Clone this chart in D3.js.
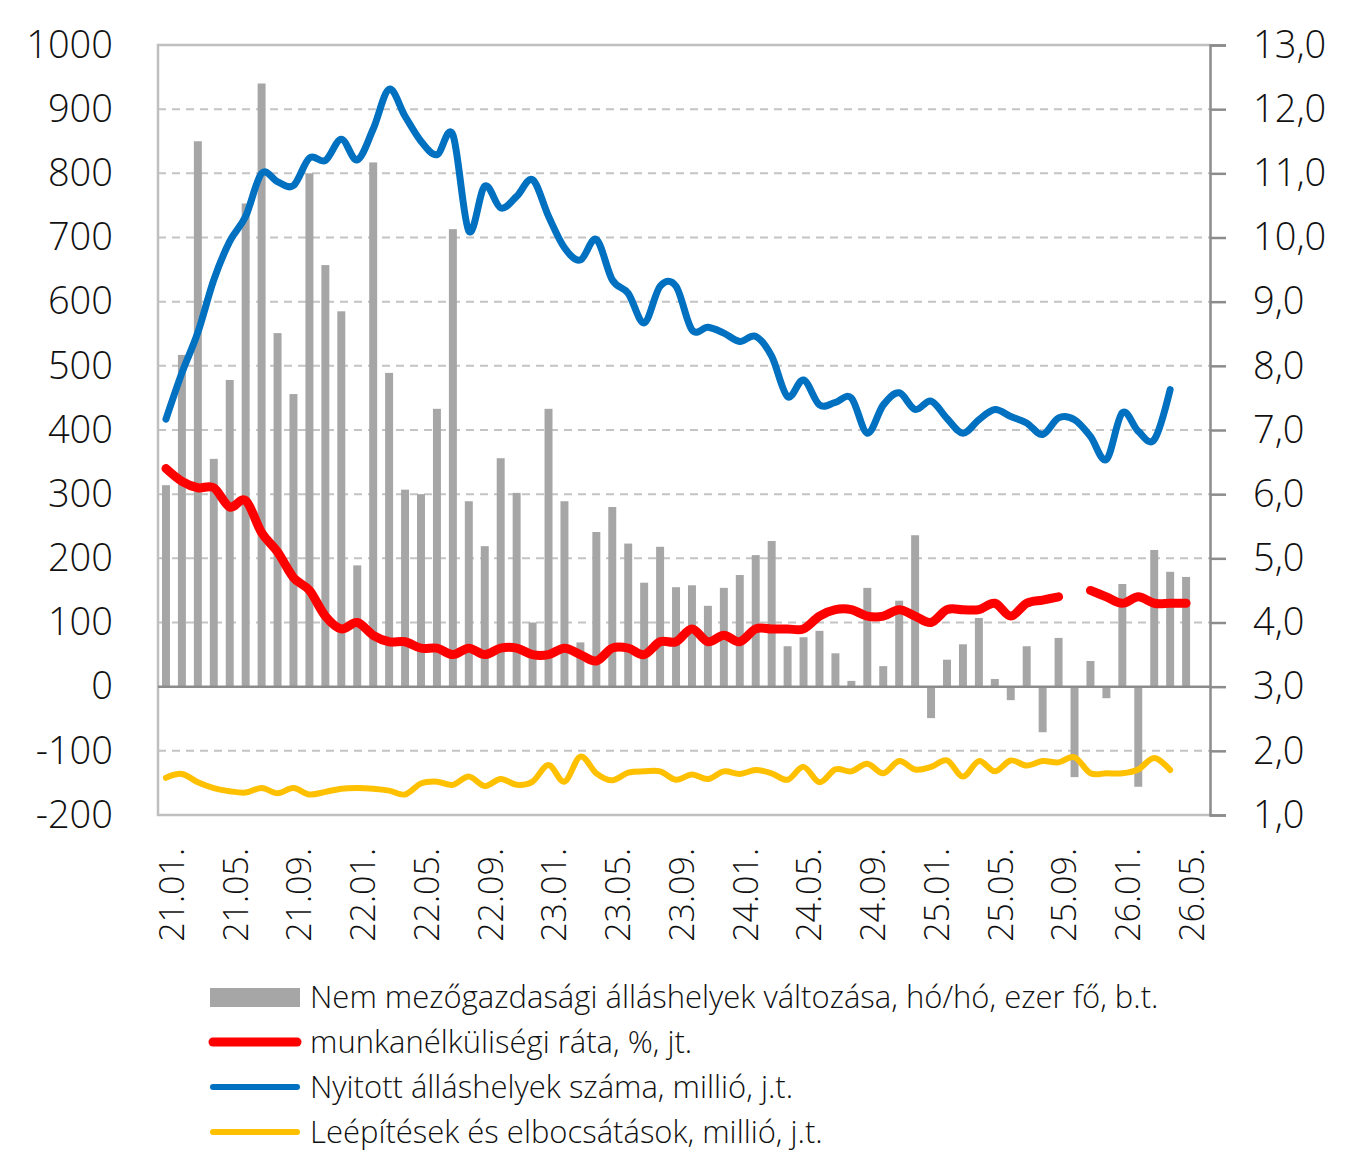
<!DOCTYPE html>
<html>
<head>
<meta charset="utf-8">
<script src="https://cdn.jsdelivr.net/npm/d3@7"></script>
<style>
  body { margin: 0; background: #fff; }
  text { font-family: "Open Sans", "Noto Sans", sans-serif; }
</style>
</head>
<body>
<svg width="1356" height="1154"></svg>
<script>
// months 21.01. .. 26.06. (last slot is empty in the source chart)
var months = [];
for (var yr = 21; yr <= 26; yr++) {
  for (var mo = 1; mo <= 12; mo++) {
    if (yr === 26 && mo > 6) break;
    months.push(yr + "." + (mo < 10 ? "0" + mo : mo) + ".");
  }
}

var tickLabels = ["21.01.", "21.05.", "21.09.", "22.01.", "22.05.", "22.09.", "23.01.", "23.05.",
  "23.09.", "24.01.", "24.05.", "24.09.", "25.01.", "25.05.", "25.09.", "26.01.", "26.05."];

// nonfarm payrolls change, m/m, thousand (left axis)
var payrolls = [314, 517, 850, 355, 478, 753, 940, 551, 456, 800,
  657, 585, 189, 817, 489, 307, 300, 433, 713, 289,
  219, 356, 302, 100, 433, 289, 69, 241, 280, 223,
  162, 218, 155, 158, 126, 154, 174, 205, 227, 63,
  77, 87, 52, 9, 154, 32, 134, 236, -49, 42,
  66, 107, 12, -21, 63, -71, 76, -141, 40, -18,
  160, -156, 213, 179, 171];

// unemployment rate, % (right axis)
var unemployment = [6.4, 6.2, 6.1, 6.1, 5.8, 5.9, 5.4, 5.1, 4.7, 4.5,
  4.1, 3.9, 4.0, 3.8, 3.7, 3.7, 3.6, 3.6, 3.5, 3.6,
  3.5, 3.6, 3.6, 3.5, 3.5, 3.6, 3.5, 3.4, 3.6, 3.6,
  3.5, 3.7, 3.7, 3.9, 3.7, 3.8, 3.7, 3.9, 3.9, 3.9,
  3.9, 4.1, 4.2, 4.2, 4.1, 4.1, 4.2, 4.1, 4.0, 4.2,
  4.2, 4.2, 4.3, 4.1, 4.3, 4.35, 4.4, null, 4.5, 4.4,
  4.3, 4.4, 4.3, 4.3, 4.3];

// job openings, million (right axis)
var openings = [7.17, 7.89, 8.52, 9.34, 9.94, 10.33, 11.0, 10.87, 10.81, 11.24,
  11.2, 11.53, 11.21, 11.69, 12.31, 11.89, 11.5, 11.29, 11.6, 10.1,
  10.8, 10.46, 10.64, 10.9, 10.33, 9.84, 9.65, 9.97, 9.34, 9.13,
  8.67, 9.24, 9.24, 8.56, 8.6, 8.51, 8.38, 8.46, 8.15, 7.52,
  7.78, 7.39, 7.43, 7.5, 6.95, 7.39, 7.58, 7.32, 7.45, 7.18,
  6.95, 7.16, 7.32, 7.21, 7.11, 6.93, 7.19, 7.16, 6.9, 6.54,
  7.27, 6.98, 6.85, 7.63, null];

// layoffs and discharges, million (right axis)
var layoffs = [1.58, 1.64, 1.51, 1.42, 1.37, 1.35, 1.42, 1.34, 1.42, 1.32,
  1.36, 1.41, 1.42, 1.41, 1.38, 1.32, 1.49, 1.52, 1.47, 1.6,
  1.45, 1.56, 1.47, 1.52, 1.78, 1.52, 1.91, 1.65, 1.54, 1.66,
  1.68, 1.68, 1.55, 1.63, 1.56, 1.68, 1.64, 1.7, 1.65, 1.55,
  1.75, 1.51, 1.71, 1.68, 1.8, 1.65, 1.84, 1.71, 1.75, 1.85,
  1.6, 1.84, 1.68, 1.85, 1.77, 1.84, 1.82, 1.9, 1.65, 1.65,
  1.65, 1.71, 1.89, 1.7, null];

var leftTicks = [-200, -100, 0, 100, 200, 300, 400, 500, 600, 700, 800, 900, 1000];
var rightTicks = [1, 2, 3, 4, 5, 6, 7, 8, 9, 10, 11, 12, 13];

var legendLabels = [
  "Nem mezőgazdasági álláshelyek változása, hó/hó, ezer fő, b.t.",
  "munkanélküliségi ráta, %, jt.",
  "Nyitott álláshelyek száma, millió, j.t.",
  "Leépítések és elbocsátások, millió, j.t."
];

var svg = d3.select("svg"),
    plot = {left: 158, right: 1210, top: 45, bottom: 815};

var hu = d3.formatLocale({decimal: ",", thousands: " ", grouping: [3], currency: ["", ""], minus: "-"});

var x = d3.scaleBand()
    .domain(months)
    .range([plot.left, plot.right])
    .paddingInner(0.5)
    .paddingOuter(0.25);

var yL = d3.scaleLinear().domain([-200, 1000]).range([plot.bottom, plot.top]);
var yR = d3.scaleLinear().domain([1, 13]).range([plot.bottom, plot.top]);

function cx(i) { return x(months[i]) + x.bandwidth() / 2; }

// gridlines
svg.append("g")
  .selectAll("line")
  .data(leftTicks.filter(function(d) { return d !== 0 && d !== -200 && d !== 1000; }))
  .enter().append("line")
    .attr("x1", plot.left).attr("x2", plot.right)
    .attr("y1", function(d) { return yL(d); })
    .attr("y2", function(d) { return yL(d); })
    .attr("stroke", "#c4c4c4")
    .attr("stroke-width", 2)
    .attr("stroke-dasharray", "8,6");

// plot border (light)
svg.append("path")
    .attr("d", "M" + plot.right + "," + plot.top + "H" + plot.left + "V" + plot.bottom + "H" + plot.right)
    .attr("fill", "none")
    .attr("stroke", "#bfbfbf")
    .attr("stroke-width", 2.5);

// bars
svg.append("g")
  .selectAll("rect")
  .data(payrolls)
  .enter().append("rect")
    .attr("x", function(d, i) { return x(months[i]); })
    .attr("width", x.bandwidth())
    .attr("y", function(d) { return yL(Math.max(0, d)); })
    .attr("height", function(d) { return Math.abs(yL(d) - yL(0)); })
    .attr("fill", "#a6a6a6");

// zero line
svg.append("line")
    .attr("x1", plot.left).attr("x2", plot.right)
    .attr("y1", yL(0)).attr("y2", yL(0))
    .attr("stroke", "#8c8c8c")
    .attr("stroke-width", 2.5);

// left axis labels
svg.append("g")
    .attr("transform", "translate(" + plot.left + ",0)")
    .call(d3.axisLeft(yL).tickValues(leftTicks).tickSize(0).tickPadding(45).tickFormat(hu.format("d")))
    .call(function(g) { g.select(".domain").remove(); })
    .selectAll("text")
      .attr("fill", "#111")
      .style("font-size", "38px")
      .style("font-weight", 300)
      .style("font-family", "'Open Sans', sans-serif");

// right axis
svg.append("g")
    .attr("transform", "translate(" + plot.right + ",0)")
    .call(d3.axisRight(yR).tickValues(rightTicks).tickSize(16).tickPadding(27).tickFormat(hu.format(".1f")))
    .call(function(g) {
      g.select(".domain").attr("stroke", "#8c8c8c").attr("stroke-width", 2.5);
      g.selectAll(".tick line").attr("stroke", "#8c8c8c").attr("stroke-width", 2.5);
    })
    .selectAll("text")
      .attr("fill", "#111")
      .style("font-size", "38px")
      .style("font-weight", 300)
      .style("font-family", "'Open Sans', sans-serif");

// x axis labels (rotated)
svg.append("g")
    .attr("transform", "translate(6," + plot.bottom + ")")
    .call(d3.axisBottom(x).tickValues(tickLabels).tickSize(0))
    .call(function(g) { g.select(".domain").remove(); })
    .selectAll("text")
      .attr("transform", "rotate(-90)")
      .attr("x", -33)
      .attr("y", 0)
      .attr("dy", "0.35em")
      .style("text-anchor", "end")
      .attr("fill", "#111")
      .style("font-size", "34px")
      .style("font-weight", 300)
      .style("font-family", "'Open Sans', sans-serif");

// lines
function lineFor(scale) {
  return d3.line()
    .defined(function(d) { return d != null; })
    .x(function(d, i) { return cx(i); })
    .y(function(d) { return scale(d); })
    .curve(d3.curveCardinal.tension(0));
}

svg.append("path")
    .datum(layoffs)
    .attr("fill", "none")
    .attr("stroke", "#ffc000")
    .attr("stroke-width", 6)
    .attr("stroke-linecap", "round")
    .attr("stroke-linejoin", "round")
    .attr("d", lineFor(yR));

svg.append("path")
    .datum(unemployment)
    .attr("fill", "none")
    .attr("stroke", "#ff0000")
    .attr("stroke-width", 9)
    .attr("stroke-linecap", "round")
    .attr("stroke-linejoin", "round")
    .attr("d", lineFor(yR));

svg.append("path")
    .datum(openings)
    .attr("fill", "none")
    .attr("stroke", "#0070c0")
    .attr("stroke-width", 7)
    .attr("stroke-linecap", "round")
    .attr("stroke-linejoin", "round")
    .attr("d", lineFor(yR));

// legend
var legend = svg.append("g").attr("transform", "translate(210,997)");
var rowH = 45;

legend.append("rect")
    .attr("x", 0).attr("y", -9).attr("width", 90).attr("height", 19)
    .attr("fill", "#a6a6a6");

var legendLines = [
  {row: 1, color: "#ff0000", w: 9},
  {row: 2, color: "#0070c0", w: 6},
  {row: 3, color: "#ffc000", w: 6}
];

legend.selectAll("line")
  .data(legendLines)
  .enter().append("line")
    .attr("x1", 3).attr("x2", 87)
    .attr("y1", function(d) { return d.row * rowH; })
    .attr("y2", function(d) { return d.row * rowH; })
    .attr("stroke", function(d) { return d.color; })
    .attr("stroke-width", function(d) { return d.w; })
    .attr("stroke-linecap", "round");

legend.selectAll("text")
  .data(legendLabels)
  .enter().append("text")
    .attr("x", 100)
    .attr("y", function(d, i) { return i * rowH; })
    .attr("dy", "0.36em")
    .attr("fill", "#111")
    .style("font-size", "31px")
    .style("font-weight", 300)
    .text(function(d) { return d; });
</script>
</body>
</html>
